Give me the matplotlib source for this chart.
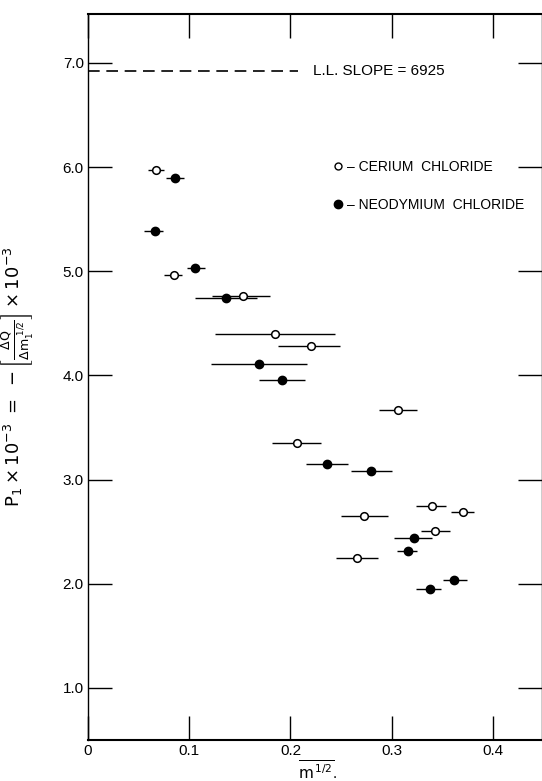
import matplotlib
matplotlib.use('Agg')
import matplotlib.pyplot as plt
from matplotlib.lines import Line2D

# ---------------------------- DATA --------------------------------------------
# cerium chloride (open circles): x = m^1/2, y = P1 x 10^-3, x bar from lo to hi
ce_x  = [0.067, 0.085, 0.153, 0.185, 0.220, 0.306, 0.206, 0.273, 0.340, 0.370, 0.343, 0.266]
ce_y  = [5.97, 4.96, 4.76, 4.40, 4.28, 3.67, 3.35, 2.65, 2.75, 2.69, 2.51, 2.25]
ce_lo = [0.059, 0.075, 0.122, 0.125, 0.188, 0.287, 0.182, 0.250, 0.324, 0.359, 0.329, 0.245]
ce_hi = [0.075, 0.093, 0.180, 0.244, 0.249, 0.325, 0.230, 0.296, 0.354, 0.381, 0.358, 0.286]

# neodymium chloride (filled circles)
nd_x  = [0.086, 0.066, 0.106, 0.136, 0.169, 0.192, 0.236, 0.280, 0.322, 0.316, 0.362, 0.338]
nd_y  = [5.90, 5.39, 5.03, 4.74, 4.11, 3.96, 3.15, 3.08, 2.44, 2.31, 2.04, 1.95]
nd_lo = [0.077, 0.055, 0.098, 0.106, 0.121, 0.169, 0.215, 0.260, 0.302, 0.305, 0.351, 0.324]
nd_hi = [0.095, 0.074, 0.116, 0.167, 0.216, 0.214, 0.257, 0.300, 0.340, 0.325, 0.374, 0.349]

ll_slope = 6.925
x_ticks = [0.0, 0.1, 0.2, 0.3, 0.4]
x_labels = ['0', '0.1', '0.2', '0.3', '0.4']
y_ticks = [1.0, 2.0, 3.0, 4.0, 5.0, 6.0, 7.0]
y_labels = ['1.0', '2.0', '3.0', '4.0', '5.0', '6.0', '7.0']

plt.rcParams['font.family'] = ['Liberation Sans', 'DejaVu Sans']
plt.rcParams['mathtext.fontset'] = 'dejavusans'

fig = plt.figure(figsize=(5.42, 7.81), dpi=100)
ax = fig.add_axes([0.1624, 0.0525, 0.8367, 0.9296])


def bars(xs, lo, hi):
    return [[x - l for x, l in zip(xs, lo)], [h - x for x, h in zip(xs, hi)]]


ax.errorbar(ce_x, ce_y, xerr=bars(ce_x, ce_lo, ce_hi), fmt='o', ms=5.5, mfc='white',
            mec='black', mew=1.1, ecolor='black', elinewidth=1.0, capsize=0, zorder=3)
ax.errorbar(nd_x, nd_y, xerr=bars(nd_x, nd_lo, nd_hi), fmt='o', ms=6, mfc='black',
            mec='black', ecolor='black', elinewidth=1.0, capsize=0, zorder=3)

# limiting law line
ax.hlines(ll_slope, 0.0, 0.207, colors='black', linestyles=(0, (7, 4)), linewidth=1.2)
ax.text(0.222, ll_slope, 'L.L. SLOPE = 6925', fontsize=11, va='center', ha='left')

handles = [Line2D([], [], marker='o', ls='none', ms=5, mfc='white', mec='black'),
           Line2D([], [], marker='o', ls='none', ms=6, mfc='black', mec='black')]
ax.legend(handles, ['\u2013 CERIUM  CHLORIDE', '\u2013 NEODYMIUM  CHLORIDE'],
          loc='upper left', bbox_to_anchor=(0.525, 0.809), frameon=False, fontsize=10,
          handlelength=0.7, handletextpad=0.3, labelspacing=1.75, borderpad=0)

ax.set_xlim(0, 0.448)
ax.set_ylim(0.5, 7.47)
ax.set_xticks(x_ticks)
ax.set_xticklabels(x_labels)
ax.set_yticks(y_ticks)
ax.set_yticklabels(y_labels)
ax.tick_params(direction='in', length=17, width=1.0, labelsize=11, top=True, right=True,
               labeltop=False, labelright=False)
ax.tick_params(axis='x', pad=3)
ax.tick_params(axis='y', pad=3)
for s in ax.spines.values():
    s.set_linewidth(1.0)
ax.spines['top'].set_linewidth(1.5)
ax.spines['bottom'].set_linewidth(1.5)

ax.set_xlabel(r'$\overline{\mathrm{m}^{\,1/2}}$.', fontsize=11)
ax.xaxis.set_label_coords(0.505, -0.026)
ax.set_ylabel(r'$\mathrm{P_1 \times 10^{-3}\ =\ -\left[\frac{\Delta Q}{\Delta m_1^{\ 1/2}}\right] \times 10^{-3}}$',
              fontsize=13)
ax.yaxis.set_label_coords(-0.118, 0.5)

fig.savefig('out.png', dpi=100)
